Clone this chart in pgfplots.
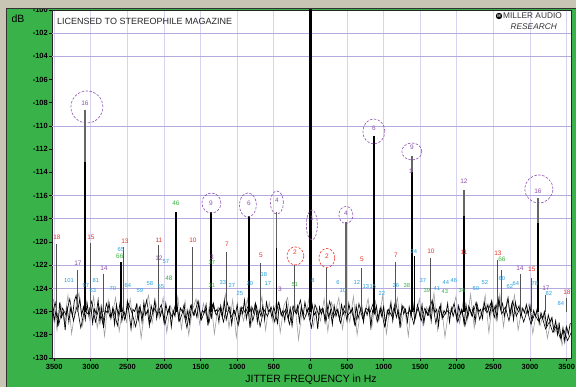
\documentclass[border=0pt]{standalone}
\usepackage{pgfplots}
\pgfplotsset{compat=1.18}
\usepackage{pgfplotstable}
\usepackage{fontspec}
\setmainfont{Liberation Sans}
\usetikzlibrary{shapes.geometric}

\definecolor{bggreen}{RGB}{58,178,74}
\definecolor{beige}{RGB}{200,197,180}
\definecolor{gridv}{RGB}{216,210,238}
\definecolor{gridh}{RGB}{180,170,222}
\definecolor{lred}{RGB}{232,52,40}
\definecolor{lpur}{RGB}{140,80,175}
\definecolor{lblu}{RGB}{40,160,225}
\definecolor{lgrn}{RGB}{60,176,70}

\newcommand{\lf}{\fontsize{6.5}{7}\selectfont}
\newcommand{\smf}{\fontsize{5.8}{6}\selectfont}

% black noise trace, 25 Hz spacing from -3525 Hz
\pgfplotstableread[row sep=\\]{
y\\
-125.4\\ -126.8\\ -125.9\\ -127.3\\ -125.2\\ -126.5\\ -126.0\\ -127.6\\ -125.5\\ -126.9\\ -125.7\\ -126.4\\ -125.1\\ -124.6\\ -125.8\\ -124.9\\ -126.3\\ -125.6\\ -126.7\\ -125.3\\
-126.4\\ -125.5\\ -127.0\\ -125.8\\ -126.2\\ -125.0\\ -126.9\\ -125.6\\ -127.4\\ -125.9\\ -126.1\\ -125.3\\ -126.6\\ -125.7\\ -127.1\\ -125.4\\ -126.3\\ -125.2\\ -126.8\\ -125.9\\
-126.5\\ -125.1\\ -126.2\\ -127.5\\ -125.8\\ -126.0\\ -125.4\\ -126.7\\ -125.6\\ -126.9\\ -125.2\\ -126.3\\ -125.9\\ -127.2\\ -125.5\\ -126.1\\ -125.0\\ -126.6\\ -125.7\\ -126.4\\
-125.8\\ -126.9\\ -125.3\\ -126.2\\ -125.6\\ -127.3\\ -125.9\\ -126.4\\ -125.1\\ -126.7\\ -125.7\\ -126.0\\ -125.4\\ -126.8\\ -125.9\\ -127.0\\ -125.5\\ -126.3\\ -125.8\\ -126.5\\
-125.2\\ -126.6\\ -125.9\\ -126.1\\ -125.4\\ -127.2\\ -125.7\\ -126.5\\ -125.3\\ -126.0\\ -125.8\\ -126.9\\ -125.5\\ -126.4\\ -125.1\\ -126.7\\ -126.0\\ -125.6\\ -127.1\\ -125.9\\
-126.3\\ -125.4\\ -126.8\\ -125.7\\ -126.2\\ -125.0\\ -126.6\\ -125.8\\ -127.4\\ -125.6\\ -126.1\\ -125.3\\ -126.9\\ -125.9\\ -126.4\\ -125.5\\ -126.7\\ -125.2\\ -126.0\\ -125.8\\
-126.5\\ -125.6\\ -126.2\\ -127.0\\ -125.4\\ -126.3\\ -125.9\\ -126.8\\ -125.3\\ -126.6\\ -125.7\\ -127.2\\ -125.8\\ -126.1\\ -125.5\\ -126.9\\ -125.6\\ -126.4\\ -125.2\\ -126.0\\
-125.7\\ -126.6\\ -125.4\\ -126.3\\ -126.0\\ -127.5\\ -125.6\\ -126.2\\ -125.8\\ -126.9\\ -125.3\\ -126.5\\ -125.9\\ -127.1\\ -125.5\\ -126.4\\ -125.8\\ -126.7\\ -125.4\\ -126.2\\
-125.9\\ -126.8\\ -125.3\\ -126.1\\ -125.7\\ -127.0\\ -125.5\\ -126.6\\ -126.0\\ -125.4\\ -126.9\\ -125.8\\ -126.3\\ -125.6\\ -127.3\\ -125.9\\ -126.2\\ -125.5\\ -126.7\\ -125.8\\
-126.4\\ -125.6\\ -127.1\\ -125.9\\ -126.3\\ -125.2\\ -126.8\\ -125.7\\ -126.5\\ -125.9\\ -127.4\\ -125.5\\ -126.2\\ -125.8\\ -126.9\\ -125.6\\ -126.4\\ -125.3\\ -126.7\\ -126.0\\
-125.7\\ -126.5\\ -125.4\\ -127.0\\ -125.9\\ -126.3\\ -125.6\\ -126.8\\ -125.2\\ -126.1\\ -125.8\\ -127.2\\ -125.5\\ -126.6\\ -125.9\\ -126.2\\ -125.3\\ -126.9\\ -125.7\\ -126.4\\
-125.8\\ -126.7\\ -125.5\\ -126.2\\ -125.9\\ -127.1\\ -125.4\\ -126.5\\ -125.7\\ -126.3\\ -125.6\\ -126.9\\ -125.3\\ -126.0\\ -125.8\\ -126.6\\ -125.2\\ -125.9\\ -125.4\\ -126.4\\
-125.1\\ -126.0\\ -125.5\\ -126.6\\ -124.9\\ -125.8\\ -125.3\\ -126.4\\ -125.6\\ -124.8\\ -126.2\\ -125.4\\ -126.7\\ -125.2\\ -125.9\\ -125.5\\ -126.5\\ -125.7\\ -126.1\\ -125.4\\
-126.2\\ -125.5\\ -126.8\\ -125.9\\ -126.4\\ -125.7\\ -127.0\\ -126.1\\ -126.6\\ -126.0\\ -127.2\\ -126.3\\ -126.9\\ -126.5\\ -127.6\\ -126.8\\ -128.0\\ -127.1\\ -128.4\\ -127.4\\
-128.6\\ -127.3\\ -127.9\\ -127.0\\
}\noiseblack

% second black trace, 50 Hz spacing from -3537 Hz
\pgfplotstableread[row sep=\\]{
y\\
-126.6\\ -125.2\\ -127.1\\ -125.7\\ -126.3\\ -124.9\\ -126.8\\ -125.5\\ -127.4\\ -125.9\\ -126.2\\ -125.1\\ -126.9\\ -125.6\\ -127.0\\ -125.3\\ -126.5\\ -125.8\\ -127.2\\ -125.4\\
-126.7\\ -125.3\\ -126.1\\ -127.3\\ -125.6\\ -126.4\\ -125.0\\ -126.9\\ -125.7\\ -126.2\\ -125.4\\ -127.1\\ -125.8\\ -126.5\\ -125.2\\ -126.8\\ -125.9\\ -127.4\\ -125.5\\ -126.3\\
-125.1\\ -126.7\\ -125.8\\ -127.0\\ -125.4\\ -126.3\\ -125.7\\ -126.9\\ -125.2\\ -126.5\\ -125.9\\ -127.2\\ -125.6\\ -126.1\\ -125.3\\ -126.8\\ -125.5\\ -127.3\\ -125.8\\ -126.4\\
-125.6\\ -126.9\\ -125.2\\ -126.4\\ -125.8\\ -127.1\\ -125.5\\ -126.2\\ -125.0\\ -126.7\\ -125.9\\ -127.4\\ -125.4\\ -126.3\\ -125.7\\ -126.8\\ -125.1\\ -126.5\\ -125.8\\ -127.0\\
-125.5\\ -126.3\\ -125.9\\ -127.2\\ -125.3\\ -126.6\\ -125.7\\ -126.1\\ -125.2\\ -126.9\\ -125.6\\ -127.3\\ -125.8\\ -126.4\\ -125.1\\ -126.7\\ -125.5\\ -126.2\\ -125.9\\ -127.1\\
-125.4\\ -126.8\\ -125.7\\ -126.3\\ -125.0\\ -127.0\\ -125.6\\ -126.5\\ -125.9\\ -126.2\\ -125.3\\ -126.9\\ -125.8\\ -127.2\\ -125.5\\ -126.4\\ -125.2\\ -126.7\\ -125.6\\ -126.1\\
-125.3\\ -126.5\\ -124.9\\ -126.2\\ -125.6\\ -126.8\\ -125.1\\ -126.4\\ -125.7\\ -126.9\\ -125.9\\ -127.1\\ -126.2\\ -126.8\\ -126.4\\ -127.5\\ -126.9\\ -127.8\\ -127.2\\ -128.3\\
-127.6\\ -128.5\\ -127.8\\
}\noiseblackb

% grey noise trace, 50 Hz spacing from -3512 Hz
\pgfplotstableread[row sep=\\]{
y\\
-124.9\\ -127.6\\ -125.3\\ -126.9\\ -124.6\\ -127.9\\ -125.8\\ -124.4\\ -127.2\\ -125.1\\ -126.8\\ -124.7\\ -127.4\\ -125.5\\ -128.1\\ -125.0\\ -126.5\\ -124.8\\ -127.7\\ -125.6\\
-126.9\\ -124.9\\ -127.3\\ -125.4\\ -128.3\\ -125.8\\ -124.6\\ -127.0\\ -125.2\\ -126.6\\ -124.8\\ -127.8\\ -125.5\\ -126.3\\ -124.7\\ -127.5\\ -125.1\\ -128.0\\ -125.9\\ -124.9\\
-127.1\\ -125.3\\ -126.7\\ -124.8\\ -127.9\\ -125.6\\ -126.2\\ -124.5\\ -127.4\\ -125.0\\ -128.2\\ -125.7\\ -126.8\\ -124.9\\ -127.2\\ -125.4\\ -126.5\\ -124.7\\ -127.6\\ -125.2\\
-126.9\\ -125.0\\ -127.8\\ -125.5\\ -124.8\\ -127.1\\ -125.3\\ -128.4\\ -125.9\\ -126.4\\ -124.6\\ -127.3\\ -125.6\\ -126.8\\ -124.9\\ -127.7\\ -125.2\\ -126.1\\ -124.8\\ -127.5\\
-125.4\\ -126.9\\ -124.7\\ -128.0\\ -125.8\\ -126.3\\ -124.9\\ -127.4\\ -125.1\\ -126.7\\ -124.6\\ -127.9\\ -125.5\\ -126.2\\ -124.8\\ -127.3\\ -125.7\\ -128.1\\ -125.0\\ -126.6\\
-124.9\\ -127.2\\ -125.6\\ -126.5\\ -124.4\\ -127.6\\ -125.3\\ -128.2\\ -125.9\\ -126.0\\ -124.7\\ -127.0\\ -125.1\\ -126.9\\ -124.5\\ -127.4\\ -125.8\\ -126.3\\ -124.6\\ -127.8\\
-125.2\\ -126.8\\ -124.5\\ -127.3\\ -125.0\\ -126.4\\ -124.6\\ -127.6\\ -125.7\\ -126.2\\ -125.3\\ -127.9\\ -126.0\\ -127.2\\ -126.1\\ -128.3\\ -126.6\\ -127.8\\ -127.0\\ -128.9\\
-127.4\\ -128.2\\
}\noisegray

\pgfplotstableread{
x y
-3463 -126
-3463 -120.2
-3463 nan
-2998 -126
-2998 -120.1
-2998 nan
-2547 -126
-2547 -120.4
-2547 nan
-2070 -126
-2070 -120.3
-2070 nan
-1605 -126
-1605 -120.4
-1605 nan
-1141 -126
-1141 -120.9
-1141 nan
-677 -126
-677 -121.8
-677 nan
-212 -126
-212 -122.0
-212 nan
-3177 -126
-3177 -122.4
-3177 nan
-2828 -126
-2828 -122.8
-2828 nan
225 -126
225 -122.2
225 nan
703 -126
703 -122.2
703 nan
1168 -126
1168 -121.7
1168 nan
1646 -126
1646 -121.4
1646 nan
2561 -126
2561 -121.55
2561 nan
2616 -126
2616 -122.4
2616 nan
2865 -126
2865 -122.8
2865 nan
3025 -126
3025 -123.1
3025 nan
3217 -126
3217 -124.6
3217 nan
3504 -126
3504 -124.8
3504 nan
}\grayspikes

\pgfplotstableread{
x y
-3080 -126
-3080 -108.6
-3080 nan
-460 -126
-460 -117.4
-460 nan
485 -126
485 -118.3
485 nan
1386 -126
1386 -112.6
1386 nan
2097 -126
2097 -115.5
2097 nan
3108 -126
3108 -116.2
3108 nan
}\graytall

\pgfplotstableread{
x y
-3080 -126
-3080 -113.1
-3080 nan
-1837 -126
-1837 -117.4
-1837 nan
-1360 -126
-1360 -117.4
-1360 nan
-840 -126
-840 -117.8
-840 nan
-460 -126
-460 -120.5
-460 nan
-2590 -126
-2590 -121.7
-2590 nan
867 -126
867 -110.9
867 nan
1386 -126
1386 -114.0
1386 nan
1420 -126
1420 -121.2
1420 nan
2097 -126
2097 -117.8
2097 nan
3108 -126
3108 -118.4
3108 nan
}\blackspikes

\begin{document}
\begin{tikzpicture}[x=1pt,y=1pt]
\clip (0,0) rectangle (576,387);
\fill[bggreen] (0,0) rectangle (576,387);
\fill[beige] (0,0) rectangle (6,387);
\draw[black!80, line width=1.2pt] (6.6,0) -- (6.6,378);

\begin{axis}[
  at={(52pt,29pt)}, anchor=south west,
  scale only axis, width=519pt, height=348pt,
  xmin=-3530, xmax=3560, ymin=-130, ymax=-100,
  axis background/.style={fill=white},
  axis line style={black!85, line width=0.8pt},
  xtick={-3500,-3000,...,3500},
  xticklabels={3500,3000,2500,2000,1500,1000,500,0,500,1000,1500,2000,2500,3000,3500},
  ytick={-130,-128,...,-100},
  yticklabels={-130,-128,-126,-124,-122,-120,-118,-116,-114,-112,-110,-108,-106,-104,-102,-100},
  tick align=outside, major tick length=3pt,
  tick style={black, line width=0.7pt},
  xtick pos=bottom, ytick pos=left,
  ticklabel style={font=\fontsize{7.5}{8}\selectfont\bfseries, text=black},
  yticklabel style={inner sep=1pt},
  xmajorgrids,
  major x grid style={draw=gridv, line width=0.7pt},
  extra y ticks={-102,-104,-110,-116,-118,-122,-124},
  extra y tick labels={},
  extra y tick style={grid=major, major grid style={draw=gridh, line width=0.8pt}, major tick length=0pt},
  unbounded coords=jump,
]
\addplot[gray!75, line width=0.6pt] table[x expr=\coordindex*50-3512, y index=0] {\noisegray};
\addplot[black, line width=0.6pt] table[x expr=\coordindex*50-3537, y index=0] {\noiseblackb};
\addplot[black, line width=0.7pt] table[x expr=\coordindex*25-3525, y index=0] {\noiseblack};
\addplot[gray!65!black, line width=1.0pt] table[x=x, y=y] {\grayspikes};
\addplot[gray!80!black, line width=1.3pt] table[x=x, y=y] {\graytall};
\addplot[black, line width=1.4pt] table[x=x, y=y] {\blackspikes};
\addplot[black, line width=2.2pt] coordinates {(0,-126) (0,-98)};

% circles
\node[draw=lpur, ellipse, dash pattern=on 2.5pt off 1.5pt, line width=0.6pt, minimum width=32pt, minimum height=32pt, inner sep=0pt] at (axis cs:-3053,-108.36) {};
\node[draw=lpur, ellipse, dash pattern=on 2.5pt off 1.5pt, line width=0.6pt, minimum width=19pt, minimum height=20pt, inner sep=0pt] at (axis cs:-1352,-116.64) {};
\node[draw=lpur, ellipse, dash pattern=on 2.5pt off 1.5pt, line width=0.6pt, minimum width=17pt, minimum height=24pt, inner sep=0pt] at (axis cs:-854,-116.81) {};
\node[draw=lpur, ellipse, dash pattern=on 2.5pt off 1.5pt, line width=0.6pt, minimum width=13pt, minimum height=23pt, inner sep=0pt] at (axis cs:-458,-116.6) {};
\node[draw=lpur, ellipse, dash pattern=on 2.5pt off 1.5pt, line width=0.6pt, minimum width=11pt, minimum height=30pt, inner sep=0pt] at (axis cs:20,-118.53) {};
\node[draw=lpur, ellipse, dash pattern=on 2.5pt off 1.5pt, line width=0.6pt, minimum width=14pt, minimum height=17pt, inner sep=0pt] at (axis cs:485,-117.67) {};
\node[draw=lpur, ellipse, dash pattern=on 2.5pt off 1.5pt, line width=0.6pt, minimum width=22pt, minimum height=25pt, inner sep=0pt] at (axis cs:867,-110.47) {};
\node[draw=lpur, ellipse, dash pattern=on 2.5pt off 1.5pt, line width=0.6pt, minimum width=20pt, minimum height=17pt, inner sep=0pt] at (axis cs:1386,-112.2) {};
\node[draw=lpur, ellipse, dash pattern=on 2.5pt off 1.5pt, line width=0.6pt, minimum width=28pt, minimum height=28pt, inner sep=0pt] at (axis cs:3121,-115.43) {};
\node[draw=lred, ellipse, dash pattern=on 2.5pt off 1.5pt, line width=0.6pt, minimum width=17pt, minimum height=18pt, inner sep=0pt] at (axis cs:-205,-121.2) {};
\node[draw=lred, ellipse, dash pattern=on 2.5pt off 1.5pt, line width=0.6pt, minimum width=16pt, minimum height=19pt, inner sep=0pt] at (axis cs:225,-121.38) {};

% red labels
\node[text=lred, font=\lf, inner sep=0pt] at (axis cs:-3463,-119.57) {18};
\node[text=lred, font=\lf, inner sep=0pt] at (axis cs:-2998,-119.57) {15};
\node[text=lred, font=\lf, inner sep=0pt] at (axis cs:-2534,-119.91) {13};
\node[text=lred, font=\lf, inner sep=0pt] at (axis cs:-2070,-119.83) {11};
\node[text=lred, font=\lf, inner sep=0pt] at (axis cs:-1605,-119.83) {10};
\node[text=lred, font=\lf, inner sep=0pt] at (axis cs:-1141,-120.17) {7};
\node[text=lred, font=\lf, inner sep=0pt] at (axis cs:-677,-121.12) {5};
\node[text=lred, font=\lf, inner sep=0pt] at (axis cs:-212,-120.86) {2};
\node[text=lred, font=\lf, inner sep=0pt] at (axis cs:225,-121.2) {2};
\node[text=lred, font=\lf, inner sep=0pt] at (axis cs:703,-121.47) {5};
\node[text=lred, font=\lf, inner sep=0pt] at (axis cs:1168,-121.12) {7};
\node[text=lred, font=\lf, inner sep=0pt] at (axis cs:1646,-120.78) {10};
\node[text=lred, font=\lf, inner sep=0pt] at (axis cs:2097,-120.86) {11};
\node[text=lred, font=\lf, inner sep=0pt] at (axis cs:2561,-120.95) {13};
\node[text=lred, font=\lf, inner sep=0pt] at (axis cs:3025,-122.33) {15};
\node[text=lred, font=\lf, inner sep=0pt] at (axis cs:3504,-124.31) {18};

% purple labels
\node[text=lpur, font=\lf, inner sep=0pt] at (axis cs:-3080,-108.02) {16};
\node[text=lpur, font=\lf, inner sep=0pt] at (axis cs:-3176,-121.81) {17};
\node[text=lpur, font=\lf, inner sep=0pt] at (axis cs:-2821,-122.24) {14};
\node[text=lpur, font=\lf, inner sep=0pt] at (axis cs:-2070,-121.38) {12};
\node[text=lpur, font=\lf, inner sep=0pt] at (axis cs:-1359,-116.64) {9};
\node[text=lpur, font=\lf, inner sep=0pt] at (axis cs:-1345,-121.29) {3};
\node[text=lpur, font=\lf, inner sep=0pt] at (axis cs:-840,-116.64) {6};
\node[text=lpur, font=\lf, inner sep=0pt] at (axis cs:-458,-116.38) {4};
\node[text=lpur, font=\lf, inner sep=0pt] at (axis cs:20,-117.93) {1};
\node[text=lpur, font=\lf, inner sep=0pt] at (axis cs:485,-117.5) {4};
\node[text=lpur, font=\lf, inner sep=0pt] at (axis cs:867,-110.17) {6};
\node[text=lpur, font=\lf, inner sep=0pt] at (axis cs:1386,-111.8) {9};
\node[text=lpur, font=\lf, inner sep=0pt] at (axis cs:1373,-113.88) {1};
\node[text=lpur, font=\lf, inner sep=0pt] at (axis cs:2097,-114.74) {12};
\node[text=lpur, font=\lf, inner sep=0pt] at (axis cs:3108,-115.6) {16};
\node[text=lpur, font=\lf, inner sep=0pt] at (axis cs:2862,-122.24) {14};
\node[text=lpur, font=\lf, inner sep=0pt] at (axis cs:3217,-123.97) {17};
\node[text=lpur, font=\lf, inner sep=0pt] at (axis cs:-417,-124.05) {3};

% green labels
\node[text=lgrn, font=\lf, inner sep=0pt] at (axis cs:-1837,-116.64) {46};
\node[text=lgrn, font=\lf, inner sep=0pt] at (axis cs:-2603,-121.21) {66};
\node[text=lgrn, font=\lf, inner sep=0pt] at (axis cs:-1933,-123.1) {48};
\node[text=lgrn, font=\smf, inner sep=0pt] at (axis cs:-1345,-121.81) {37};
\node[text=lgrn, font=\smf, inner sep=0pt] at (axis cs:-1345,-123.79) {31};
\node[text=lgrn, font=\smf, inner sep=0pt] at (axis cs:-212,-123.71) {51};
\node[text=lgrn, font=\smf, inner sep=0pt] at (axis cs:1318,-123.71) {38};
\node[text=lgrn, font=\smf, inner sep=0pt] at (axis cs:1592,-124.22) {39};
\node[text=lgrn, font=\smf, inner sep=0pt] at (axis cs:1838,-124.31) {43};
\node[text=lgrn, font=\smf, inner sep=0pt] at (axis cs:2070,-124.14) {34};
\node[text=lgrn, font=\lf, inner sep=0pt] at (axis cs:2616,-121.47) {66};

% blue labels
\node[text=lblu, font=\smf, inner sep=0pt] at (axis cs:-2589,-120.69) {65};
\node[text=lblu, font=\smf, inner sep=0pt] at (axis cs:-3299,-123.28) {101};
\node[text=lblu, font=\smf, inner sep=0pt] at (axis cs:-3066,-123.71) {97};
\node[text=lblu, font=\smf, inner sep=0pt] at (axis cs:-2930,-123.36) {81};
\node[text=lblu, font=\smf, inner sep=0pt] at (axis cs:-2971,-124.22) {63};
\node[text=lblu, font=\smf, inner sep=0pt] at (axis cs:-2698,-123.97) {70};
\node[text=lblu, font=\smf, inner sep=0pt] at (axis cs:-2493,-123.71) {64};
\node[text=lblu, font=\smf, inner sep=0pt] at (axis cs:-2329,-124.22) {59};
\node[text=lblu, font=\smf, inner sep=0pt] at (axis cs:-2193,-123.62) {58};
\node[text=lblu, font=\smf, inner sep=0pt] at (axis cs:-1974,-121.72) {57};
\node[text=lblu, font=\smf, inner sep=0pt] at (axis cs:-2043,-123.88) {55};
\node[text=lblu, font=\smf, inner sep=0pt] at (axis cs:-1195,-123.45) {33};
\node[text=lblu, font=\smf, inner sep=0pt] at (axis cs:-1072,-123.71) {27};
\node[text=lblu, font=\smf, inner sep=0pt] at (axis cs:-963,-124.4) {25};
\node[text=lblu, font=\smf, inner sep=0pt] at (axis cs:-827,-123.62) {20};
\node[text=lblu, font=\smf, inner sep=0pt] at (axis cs:-635,-122.84) {18};
\node[text=lblu, font=\smf, inner sep=0pt] at (axis cs:-581,-123.62) {17};
\node[text=lblu, font=\smf, inner sep=0pt] at (axis cs:34,-123.28) {8};
\node[text=lblu, font=\smf, inner sep=0pt] at (axis cs:376,-123.45) {6};
\node[text=lblu, font=\smf, inner sep=0pt] at (axis cs:444,-124.14) {10};
\node[text=lblu, font=\smf, inner sep=0pt] at (axis cs:635,-123.53) {12};
\node[text=lblu, font=\smf, inner sep=0pt] at (axis cs:758,-123.88) {13};
\node[text=lblu, font=\smf, inner sep=0pt] at (axis cs:854,-123.88) {15};
\node[text=lblu, font=\smf, inner sep=0pt] at (axis cs:977,-124.4) {22};
\node[text=lblu, font=\smf, inner sep=0pt] at (axis cs:1168,-123.79) {26};
\node[text=lblu, font=\smf, inner sep=0pt] at (axis cs:1414,-120.86) {24};
\node[text=lblu, font=\smf, inner sep=0pt] at (axis cs:1537,-123.28) {37};
\node[text=lblu, font=\smf, inner sep=0pt] at (axis cs:1728,-123.97) {41};
\node[text=lblu, font=\smf, inner sep=0pt] at (axis cs:1851,-123.45) {44};
\node[text=lblu, font=\smf, inner sep=0pt] at (axis cs:1960,-123.28) {46};
\node[text=lblu, font=\smf, inner sep=0pt] at (axis cs:2261,-123.97) {50};
\node[text=lblu, font=\smf, inner sep=0pt] at (axis cs:2384,-123.53) {52};
\node[text=lblu, font=\smf, inner sep=0pt] at (axis cs:2616,-123.19) {60};
\node[text=lblu, font=\smf, inner sep=0pt] at (axis cs:2725,-123.88) {62};
\node[text=lblu, font=\smf, inner sep=0pt] at (axis cs:2807,-123.62) {64};
\node[text=lblu, font=\smf, inner sep=0pt] at (axis cs:3067,-123.62) {78};
\node[text=lblu, font=\smf, inner sep=0pt] at (axis cs:3258,-124.4) {82};
\node[text=lblu, font=\smf, inner sep=0pt] at (axis cs:3422,-125.26) {84};
\end{axis}

\fill[beige] (0,379) rectangle (576,387);
\draw[black!80, line width=1.2pt] (6.6,0) -- (6.6,378.3) -- (576,378.3);

\node[anchor=center, font=\fontsize{10.5}{11}\selectfont, text=black] at (18,368) {dB};
\node[anchor=west, font=\fontsize{9}{10}\selectfont, text=black!85, inner sep=0pt] at (57,366) {LICENSED TO STEREOPHILE MAGAZINE};
\fill[black] (499,371) circle (3.2);
\node[font=\fontsize{4}{4}\selectfont\bfseries, text=white, inner sep=0pt] at (499,371) {M};
\node[anchor=west, font=\fontsize{8.3}{9}\selectfont, text=black!80, inner sep=0pt] at (503,371) {MILLER AUDIO};
\node[anchor=east, font=\fontsize{8.3}{9}\selectfont\itshape, text=black!80, inner sep=0pt] at (557,360.5) {RESEARCH};
\node[anchor=north, font=\fontsize{10.5}{11}\selectfont, text=black, inner sep=0pt] at (311,12.5) {JITTER FREQUENCY in Hz};
\end{tikzpicture}
\end{document}
